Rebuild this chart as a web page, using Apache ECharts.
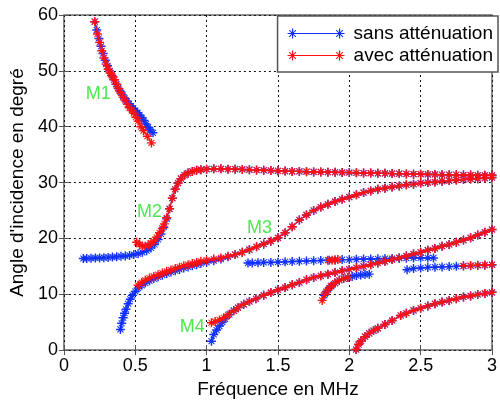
<!DOCTYPE html>
<html>
<head>
<meta charset="utf-8">
<script src="https://cdn.jsdelivr.net/npm/echarts@6/dist/echarts.min.js"></script>
<style>
html,body{margin:0;padding:0;background:#fff;}
#chart{width:500px;height:404px;}
</style>
</head>
<body>
<div id="chart"></div>
<script>
// ---- data (frequency MHz, angle deg) ----
var xTicks = [0, 0.5, 1, 1.5, 2, 2.5, 3];
var yTicks = [0, 10, 20, 30, 40, 50, 60];
var seriesNames = ['sans atténuation', 'avec atténuation'];

var blueM1 = [[0.216,58.8],[0.23,57.3],[0.245,55.8],[0.26,54.4],[0.275,53.1],[0.29,51.9],[0.305,50.9],[0.32,50.0],[0.335,49.2],[0.35,48.4],[0.365,47.6],[0.38,46.9],[0.395,46.3],[0.41,45.7],[0.425,45.1],[0.44,44.6],[0.455,44.1],[0.47,43.7],[0.485,43.3],[0.5,42.9],[0.515,42.5],[0.53,42.1],[0.545,41.6],[0.56,41.1],[0.575,40.5],[0.59,39.9],[0.605,39.4],[0.624,38.9]];
var redM1 = [[0.216,58.8],[0.235,56.6],[0.25,55.1],[0.265,53.6],[0.28,52.3],[0.295,51.2],[0.31,50.3],[0.325,49.6],[0.34,49.0],[0.355,48.4],[0.37,47.6],[0.385,46.8],[0.4,46.0],[0.415,45.3],[0.43,44.7],[0.445,44.0],[0.46,43.4],[0.475,42.9],[0.49,42.4],[0.505,41.7],[0.52,41.0],[0.54,40.0],[0.558,39.3],[0.585,38.3],[0.613,37.1]];

var blueM2 = [[0.136,16.4],[0.16,16.4],[0.19,16.45],[0.22,16.5],[0.25,16.5],[0.28,16.55],[0.31,16.6],[0.34,16.65],[0.37,16.7],[0.4,16.8],[0.43,16.85],[0.46,16.95],[0.49,17.1],[0.52,17.25],[0.55,17.5],[0.58,17.8],[0.61,18.3],[0.635,18.9],[0.66,19.8],[0.68,20.8],[0.7,22.0],[0.72,23.5],[0.74,25.3],[0.76,27.2],[0.78,28.8],[0.8,29.9],[0.82,30.7],[0.845,31.3],[0.87,31.7],[0.9,32.0],[0.93,32.2],[0.96,32.3],[1.0,32.4],[1.05,32.45],[1.1,32.45],[1.15,32.4],[1.2,32.4],[1.25,32.35],[1.3,32.3],[1.35,32.25],[1.4,32.2],[1.45,32.15],[1.5,32.1],[1.55,32.05],[1.6,32.0],[1.65,32.0],[1.7,31.95],[1.75,31.9],[1.8,31.9],[1.85,31.85],[1.9,31.85],[1.95,31.8],[2.0,31.8],[2.05,31.75],[2.1,31.7],[2.15,31.7],[2.2,31.65],[2.25,31.65],[2.3,31.6],[2.35,31.6],[2.4,31.55],[2.45,31.5],[2.5,31.5],[2.55,31.45],[2.6,31.45],[2.65,31.4],[2.7,31.4],[2.75,31.4],[2.8,31.35],[2.85,31.35],[2.9,31.3],[2.95,31.3],[3.0,31.3]];
var redM2 = [[0.51,19.3],[0.53,18.9],[0.55,18.6],[0.57,18.6],[0.59,18.8],[0.61,19.1],[0.63,19.5],[0.65,20.2],[0.67,21.0],[0.69,21.8],[0.705,22.6],[0.72,23.7],[0.74,25.3],[0.76,27.2],[0.78,28.8],[0.8,29.9],[0.82,30.7],[0.845,31.3],[0.87,31.7],[0.9,32.0],[0.93,32.2],[0.96,32.3],[1.0,32.4],[1.05,32.45],[1.1,32.45],[1.15,32.4],[1.2,32.4],[1.25,32.35],[1.3,32.3],[1.35,32.25],[1.4,32.2],[1.45,32.15],[1.5,32.1],[1.55,32.05],[1.6,32.0],[1.65,32.0],[1.7,31.95],[1.75,31.9],[1.8,31.9],[1.85,31.85],[1.9,31.85],[1.95,31.8],[2.0,31.8],[2.05,31.75],[2.1,31.7],[2.15,31.7],[2.2,31.65],[2.25,31.65],[2.3,31.6],[2.35,31.6],[2.4,31.55],[2.45,31.5],[2.5,31.5],[2.55,31.45],[2.6,31.45],[2.65,31.4],[2.7,31.4],[2.75,31.4],[2.8,31.35],[2.85,31.35],[2.9,31.3],[2.95,31.3],[3.0,31.3]];

var blueM3 = [[0.396,3.7],[0.405,4.8],[0.415,5.8],[0.425,6.6],[0.435,7.3],[0.45,8.3],[0.465,9.1],[0.48,9.8],[0.5,10.5],[0.52,11.1],[0.545,11.6],[0.57,12.0],[0.6,12.4],[0.63,12.8],[0.66,13.1],[0.69,13.4],[0.72,13.7],[0.75,14.0],[0.78,14.2],[0.81,14.45],[0.84,14.7],[0.87,14.9],[0.9,15.1],[0.93,15.3],[0.96,15.5],[1.0,15.7],[1.05,16.0],[1.1,16.3],[1.15,16.7],[1.2,17.1],[1.25,17.5],[1.3,18.0],[1.35,18.5],[1.4,19.0],[1.45,19.5],[1.5,20.1],[1.55,21.0],[1.6,22.1],[1.65,23.3],[1.7,24.2],[1.75,25.0],[1.8,25.6],[1.85,26.1],[1.9,26.6],[1.95,27.0],[2.0,27.4],[2.05,27.8],[2.1,28.2],[2.15,28.5],[2.2,28.8],[2.25,29.0],[2.3,29.2],[2.35,29.4],[2.4,29.6],[2.45,29.7],[2.5,29.9],[2.55,30.0],[2.6,30.1],[2.65,30.25],[2.7,30.35],[2.75,30.45],[2.8,30.55],[2.85,30.65],[2.9,30.7],[2.95,30.8],[3.0,30.9]];
var redM3 = [[0.52,11.6],[0.545,12.1],[0.57,12.5],[0.6,12.9],[0.63,13.2],[0.66,13.5],[0.69,13.8],[0.72,14.1],[0.75,14.35],[0.78,14.6],[0.81,14.85],[0.84,15.1],[0.87,15.3],[0.9,15.5],[0.93,15.7],[0.96,15.9],[1.0,16.1],[1.05,16.3],[1.1,16.5],[1.15,16.8],[1.2,17.1],[1.25,17.5],[1.3,18.0],[1.35,18.5],[1.4,19.0],[1.45,19.5],[1.5,20.1],[1.55,21.0],[1.6,22.1],[1.65,23.3],[1.7,24.2],[1.75,25.0],[1.8,25.6],[1.85,26.1],[1.9,26.6],[1.95,27.0],[2.0,27.4],[2.05,27.8],[2.1,28.2],[2.15,28.5],[2.2,28.8],[2.25,29.0],[2.3,29.2],[2.35,29.4],[2.4,29.6],[2.45,29.7],[2.5,29.9],[2.55,30.0],[2.6,30.1],[2.65,30.25],[2.7,30.35],[2.75,30.45],[2.8,30.55],[2.85,30.65],[2.9,30.7],[2.95,30.8],[3.0,30.9]];

var blueH1 = [[1.29,15.6],[1.32,15.6],[1.36,15.65],[1.4,15.7],[1.45,15.7],[1.5,15.75],[1.55,15.8],[1.6,15.85],[1.65,15.9],[1.7,15.95],[1.75,16.0],[1.8,16.05],[1.85,16.1],[1.9,16.15],[1.95,16.2],[2.0,16.2],[2.05,16.25],[2.1,16.3],[2.15,16.3],[2.2,16.35],[2.25,16.4],[2.3,16.4],[2.35,16.45],[2.4,16.45],[2.45,16.5],[2.5,16.5],[2.55,16.5],[2.59,16.5]];
var redH1 = [[1.86,16.1],[1.88,16.1],[1.9,16.15],[1.92,16.2]];
var blueH2 = [[2.405,14.4],[2.45,14.6],[2.5,14.7],[2.55,14.8],[2.6,14.85],[2.65,14.9],[2.7,14.95],[2.75,15.0],[2.8,15.05],[2.85,15.1],[2.9,15.15],[2.95,15.2],[3.0,15.25]];
var redH2 = [[2.8,15.1],[2.85,15.15],[2.9,15.2],[2.95,15.25],[3.0,15.3]];

var blueM4 = [[1.034,1.6],[1.05,2.8],[1.07,3.6],[1.09,4.3],[1.11,5.0],[1.13,5.6],[1.16,6.4],[1.19,7.1],[1.22,7.6],[1.26,8.2],[1.3,8.7],[1.345,9.2],[1.4,9.8],[1.45,10.3],[1.5,10.8],[1.55,11.2],[1.6,11.7],[1.65,12.1],[1.7,12.6],[1.75,13.0],[1.8,13.3],[1.85,13.6],[1.9,13.9],[1.95,14.2],[2.0,14.45],[2.05,14.75],[2.1,15.0],[2.15,15.3],[2.2,15.6],[2.25,15.9],[2.3,16.2],[2.35,16.5],[2.4,16.85],[2.45,17.2],[2.5,17.5],[2.55,17.9],[2.6,18.2],[2.65,18.6],[2.7,18.9],[2.75,19.3],[2.8,19.7],[2.85,20.1],[2.9,20.6],[2.95,21.1],[3.0,21.6]];
var redM4 = [[1.034,4.9],[1.06,5.1],[1.09,5.4],[1.12,5.8],[1.15,6.3],[1.19,7.0],[1.22,7.6],[1.26,8.2],[1.3,8.7],[1.345,9.2],[1.4,9.8],[1.45,10.3],[1.5,10.8],[1.55,11.2],[1.6,11.7],[1.65,12.1],[1.7,12.6],[1.75,13.0],[1.8,13.3],[1.85,13.6],[1.9,13.9],[1.95,14.2],[2.0,14.45],[2.05,14.75],[2.1,15.0],[2.15,15.3],[2.2,15.6],[2.25,15.9],[2.3,16.2],[2.35,16.5],[2.4,16.85],[2.45,17.2],[2.5,17.5],[2.55,17.9],[2.6,18.2],[2.65,18.6],[2.7,18.9],[2.75,19.3],[2.8,19.7],[2.85,20.1],[2.9,20.6],[2.95,21.1],[3.0,21.6]];

var blueS = [[1.824,9.8],[1.84,10.5],[1.86,11.1],[1.875,11.5],[1.9,12.0],[1.93,12.5],[1.96,12.8],[1.99,13.0],[2.02,13.2],[2.05,13.35],[2.08,13.45],[2.11,13.55],[2.14,13.6]];
var redS = [[1.81,8.9],[1.83,10.0],[1.85,10.8],[1.87,11.4],[1.9,12.0],[1.93,12.5],[1.96,12.8],[1.99,13.0]];

var blueB = [[2.048,0.1],[2.065,1.0],[2.082,1.6],[2.11,2.4],[2.14,3.0],[2.17,3.5],[2.2,3.9],[2.25,4.6],[2.3,5.3],[2.36,6.2],[2.4,6.6],[2.45,7.1],[2.5,7.5],[2.55,7.9],[2.6,8.3],[2.65,8.6],[2.7,8.9],[2.75,9.2],[2.8,9.5],[2.85,9.7],[2.9,9.95],[2.95,10.15],[3.0,10.35]];
var redB = [[2.048,0.1],[2.065,1.0],[2.082,1.6],[2.11,2.4],[2.14,3.0],[2.17,3.5],[2.2,3.9],[2.25,4.6],[2.3,5.3],[2.36,6.2],[2.4,6.6],[2.45,7.1],[2.5,7.5],[2.55,7.9],[2.6,8.3],[2.65,8.6],[2.7,8.9],[2.75,9.2],[2.8,9.5],[2.85,9.7],[2.9,9.95],[2.95,10.15],[3.0,10.35]];

var modeLabels = ['M1', 'M2', 'M3', 'M4'];
var modeLabelF = [0.24, 0.60, 1.37, 0.90];
var modeLabelA = [45.8, 24.7, 21.8, 4.2];

// ---- styling ----
var BLUE = '#1030ff', RED = '#ff1010';
var STAR = 'path://M4.2 0H5.8V10H4.2Z M0 4.2H10V5.8H0Z M1.3 2.1L2.1 1.3L8.7 7.9L7.9 8.7Z M7.9 1.3L8.7 2.1L2.1 8.7L1.3 7.9Z';
var LEG_ICON = 'path://M5 4.6H52V5.4H5Z M4.4 0H5.6V10H4.4Z M0 4.4H10V5.6H0Z M1.3 2L2 1.3L8.7 8L8 8.7Z M8 1.3L8.7 2L2 8.7L1.3 8Z M51.4 0H52.6V10H51.4Z M47 4.4H57V5.6H47Z M48.3 2L49 1.3L55.7 8L55 8.7Z M55 1.3L55.7 2L49 8.7L48.3 8Z';
var FONT = 'Liberation Sans, Arial, sans-serif';

function mk(idx, data, color) {
  return {
    name: seriesNames[idx],
    type: 'line',
    data: data,
    symbol: STAR,
    symbolSize: 9,
    showSymbol: true,
    lineStyle: { color: color, width: 1.2 },
    itemStyle: { color: color, borderWidth: 0 },
    emphasis: { disabled: true },
    z: 2 + idx
  };
}

var series = [
  mk(0, blueM1, BLUE), mk(0, blueM2, BLUE), mk(0, blueM3, BLUE), mk(0, blueH1, BLUE),
  mk(0, blueH2, BLUE), mk(0, blueM4, BLUE), mk(0, blueS, BLUE), mk(0, blueB, BLUE),
  mk(1, redM1, RED), mk(1, redM2, RED), mk(1, redM3, RED), mk(1, redH1, RED),
  mk(1, redH2, RED), mk(1, redM4, RED), mk(1, redS, RED), mk(1, redB, RED),
  {
    name: 'labels',
    type: 'scatter',
    symbolSize: 0,
    silent: true,
    z: 10,
    data: modeLabels.map(function (t, i) { return { name: t, value: [modeLabelF[i], modeLabelA[i]] }; }),
    label: { show: true, position: 'inside', formatter: '{b}', color: '#22e022', fontSize: 18, fontFamily: FONT }
  }
];

var tickStyle = { show: true, inside: true, length: 5, lineStyle: { color: '#555', width: 1 } };

var chart = echarts.init(document.getElementById('chart'), null, { renderer: 'canvas' });
chart.setOption({
  animation: false,
  backgroundColor: '#ffffff',
  grid: { left: 62, right: 4, top: 15, bottom: 47, show: true, borderColor: '#6a6a6a', borderWidth: 1.5, backgroundColor: '#fff' },
  legend: {
    data: seriesNames,
    orient: 'vertical',
    right: 2,
    top: 16,
    padding: [8, 5, 7, 10],
    itemGap: 3,
    itemWidth: 57,
    itemHeight: 10,
    icon: LEG_ICON,
    backgroundColor: '#ffffff',
    borderColor: '#555',
    borderWidth: 1.5,
    borderRadius: 0,
    selectedMode: false,
    textStyle: { fontSize: 19, color: '#000', fontFamily: FONT, padding: [0, 0, 0, 4] }
  },
  xAxis: [{
    type: 'value',
    min: xTicks[0], max: xTicks[xTicks.length - 1], interval: 0.5,
    name: 'Fréquence en MHz', nameLocation: 'middle', nameGap: 22,
    nameTextStyle: { fontSize: 19, color: '#000', fontFamily: FONT },
    axisLine: { show: false },
    axisTick: tickStyle,
    axisLabel: { fontSize: 18, color: '#000', margin: 7, fontFamily: FONT },
    splitLine: { show: true, lineStyle: { color: '#111', type: [2, 3], width: 1 } }
  }, {
    type: 'value', position: 'top',
    min: xTicks[0], max: xTicks[xTicks.length - 1], interval: 0.5,
    axisLine: { show: false }, axisTick: tickStyle, axisLabel: { show: false }, splitLine: { show: false }
  }],
  yAxis: [{
    type: 'value',
    min: yTicks[0], max: yTicks[yTicks.length - 1], interval: 10,
    name: "Angle d'incidence en degré", nameLocation: 'middle', nameGap: 35,
    nameTextStyle: { fontSize: 19, color: '#000', fontFamily: FONT },
    axisLine: { show: false },
    axisTick: tickStyle,
    axisLabel: { fontSize: 18, color: '#000', margin: 6, fontFamily: FONT },
    splitLine: { show: true, lineStyle: { color: '#111', type: [2, 3], width: 1 } }
  }, {
    type: 'value', position: 'right',
    min: yTicks[0], max: yTicks[yTicks.length - 1], interval: 10,
    axisLine: { show: false }, axisTick: tickStyle, axisLabel: { show: false }, splitLine: { show: false }
  }],
  series: series
});
</script>
</body>
</html>
